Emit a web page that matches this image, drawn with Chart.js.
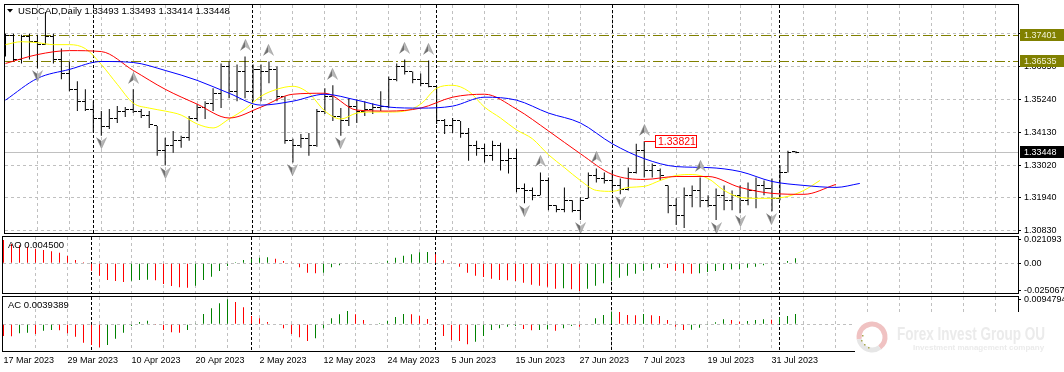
<!DOCTYPE html>
<html lang="en">
<head>
<meta charset="UTF-8">
<title>USDCAD Daily</title>
<script src="https://cdn.jsdelivr.net/npm/chart.js@4"></script>
<style>
  body { margin: 0; background: #fff; }
  #wrap { position: relative; width: 1064px; height: 372px; overflow: hidden; }
  #wrap canvas { position: absolute; left: 0; top: 0; }
</style>
</head>
<body>
<div id="wrap">
  <canvas id="mainChart" width="1064" height="372"></canvas>
  <canvas id="aoChart" width="1064" height="372"></canvas>
  <canvas id="acChart" width="1064" height="372"></canvas>
</div>
<script>
// ---- data ----
const symbol = 'USDCAD,Daily';
const dateTicks = ['17 Mar 2023', '29 Mar 2023', '10 Apr 2023', '20 Apr 2023', '2 May 2023', '12 May 2023',
  '24 May 2023', '5 Jun 2023', '15 Jun 2023', '27 Jun 2023', '7 Jul 2023', '19 Jul 2023', '31 Jul 2023'];
const monthStarts = [11, 31, 54, 76, 97];   // first bar of each month (period separators)

const opens = [1.36843, 1.37378, 1.36576, 1.37345, 1.37178, 1.37077, 1.37345, 1.36576, 1.36108, 1.35574,
  1.35173, 1.34906, 1.34572, 1.34304, 1.34572, 1.34839, 1.34906, 1.34839, 1.34705, 1.34338,
  1.33502, 1.33670, 1.33837, 1.33937, 1.34572, 1.34973, 1.35106, 1.35440, 1.36342, 1.35507,
  1.36175, 1.35507, 1.36242, 1.36175, 1.36242, 1.35340, 1.33837, 1.33670, 1.33903, 1.33670,
  1.34839, 1.35340, 1.34672, 1.34505, 1.35006, 1.34839, 1.34906, 1.34973, 1.35006, 1.35908,
  1.36342, 1.36175, 1.35908, 1.35774, 1.35674, 1.34505, 1.34338, 1.34505, 1.34070, 1.33670,
  1.33569, 1.33335, 1.33670, 1.33168, 1.33235, 1.32233, 1.32166, 1.31999, 1.32500, 1.31665,
  1.31531, 1.31832, 1.31498, 1.31899, 1.32667, 1.32567, 1.32500, 1.32333, 1.32200, 1.32767,
  1.33502, 1.32834, 1.32834, 1.32333, 1.31665, 1.31331, 1.31999, 1.32166, 1.31832, 1.31665,
  1.31999, 1.31832, 1.31999, 1.31832, 1.32166, 1.32333, 1.32233, 1.31899, 1.32767, 1.33493];
const highs = [1.37445, 1.37445, 1.37411, 1.37445, 1.37411, 1.38180, 1.37445, 1.36944, 1.36509, 1.35841,
  1.35574, 1.35173, 1.34839, 1.34906, 1.35006, 1.34973, 1.35574, 1.34906, 1.34839, 1.34338,
  1.33937, 1.34171, 1.34004, 1.34672, 1.35073, 1.35173, 1.35607, 1.36443, 1.36509, 1.36409,
  1.36676, 1.36409, 1.36409, 1.36509, 1.36342, 1.35340, 1.33903, 1.34070, 1.34104, 1.34906,
  1.35607, 1.35708, 1.34939, 1.35273, 1.35240, 1.35173, 1.35106, 1.35507, 1.36008, 1.36443,
  1.36576, 1.36175, 1.36108, 1.36543, 1.35674, 1.34572, 1.34605, 1.34505, 1.34271, 1.33837,
  1.33736, 1.33837, 1.33770, 1.33569, 1.33569, 1.32400, 1.32266, 1.32767, 1.32600, 1.31665,
  1.32266, 1.31832, 1.31932, 1.32767, 1.32901, 1.32767, 1.32834, 1.32567, 1.32935, 1.33736,
  1.33821, 1.33068, 1.32901, 1.32333, 1.31899, 1.32266, 1.32333, 1.32600, 1.31999, 1.32233,
  1.32333, 1.32166, 1.32333, 1.32433, 1.32600, 1.32500, 1.32567, 1.33001, 1.33502, 1.33493];
const lows = [1.36676, 1.36509, 1.36443, 1.36576, 1.36276, 1.37077, 1.36443, 1.35908, 1.35507, 1.34839,
  1.34839, 1.34104, 1.34004, 1.34238, 1.34438, 1.34638, 1.34772, 1.34605, 1.34271, 1.33335,
  1.33001, 1.33436, 1.33603, 1.33837, 1.34505, 1.34572, 1.34839, 1.34939, 1.35273, 1.35173,
  1.35273, 1.35173, 1.35173, 1.35774, 1.35173, 1.33736, 1.33102, 1.33603, 1.33335, 1.33636,
  1.34739, 1.34505, 1.34004, 1.34338, 1.34438, 1.34672, 1.34739, 1.34839, 1.34939, 1.35841,
  1.36075, 1.35774, 1.35674, 1.35641, 1.34405, 1.34070, 1.34104, 1.33937, 1.33168, 1.33335,
  1.33102, 1.33168, 1.32834, 1.32734, 1.32099, 1.31732, 1.31832, 1.31999, 1.31498, 1.31431,
  1.31431, 1.31431, 1.31164, 1.31899, 1.32433, 1.32400, 1.32166, 1.32032, 1.32166, 1.32734,
  1.32600, 1.32600, 1.32500, 1.31398, 1.30997, 1.30897, 1.31598, 1.31598, 1.31598, 1.31164,
  1.31498, 1.31498, 1.31398, 1.31665, 1.31565, 1.31999, 1.31464, 1.31832, 1.32767, 1.33414];
const closes = [1.37378, 1.36576, 1.37345, 1.37178, 1.37077, 1.37345, 1.36576, 1.36108, 1.35574, 1.35173,
  1.34906, 1.34572, 1.34304, 1.34572, 1.34839, 1.34906, 1.34839, 1.34705, 1.34371, 1.33502,
  1.33670, 1.33837, 1.33937, 1.34572, 1.34973, 1.35106, 1.35440, 1.36342, 1.35507, 1.36175,
  1.35507, 1.36242, 1.36175, 1.36242, 1.35340, 1.33837, 1.33670, 1.33903, 1.33670, 1.34839,
  1.35340, 1.34672, 1.34505, 1.35006, 1.34839, 1.34906, 1.34973, 1.35006, 1.35908, 1.36342,
  1.36175, 1.35908, 1.35774, 1.35674, 1.34505, 1.34338, 1.34505, 1.34070, 1.33670, 1.33569,
  1.33335, 1.33670, 1.33168, 1.33235, 1.32233, 1.32166, 1.31999, 1.32500, 1.31665, 1.31531,
  1.31832, 1.31498, 1.31832, 1.32667, 1.32567, 1.32500, 1.32333, 1.32200, 1.32767, 1.33502,
  1.32834, 1.33001, 1.32667, 1.31665, 1.31331, 1.31999, 1.32166, 1.31832, 1.31665, 1.31999,
  1.31832, 1.31999, 1.31832, 1.32166, 1.32333, 1.32233, 1.31899, 1.32767, 1.33436, 1.33448];

// Alligator lines (jaw/teeth sampled every 4 bars, lips every 2 bars)
const jaw = [1.35207, 1.35942, 1.36242, 1.36510, 1.36476, 1.36209, 1.35875, 1.35440, 1.35040, 1.35173,
  1.35407, 1.35207, 1.34973, 1.34939, 1.35006, 1.35307, 1.35207, 1.34772, 1.34438, 1.33737,
  1.33235, 1.32968, 1.32935, 1.32801, 1.32467, 1.32333, 1.32266, 1.32400];
const teeth = [1.36443, 1.36743, 1.36877, 1.36844, 1.36209, 1.35574, 1.35073, 1.34605, 1.34973, 1.35407,
  1.35440, 1.34872, 1.34839, 1.34939, 1.35307, 1.35407, 1.34906, 1.34171, 1.33402, 1.32701,
  1.32534, 1.32634, 1.32634, 1.32266, 1.32066, 1.32033, 1.32367];
const lips = [1.37078, 1.37178, 1.37144, 1.37078, 1.37078, 1.36944, 1.36409, 1.35741, 1.35106, 1.34939,
  1.34839, 1.34705, 1.34405, 1.34271, 1.34572, 1.34906, 1.35340, 1.35574, 1.35674, 1.35440,
  1.34839, 1.34572, 1.34772, 1.34806, 1.34806, 1.34839, 1.35073, 1.35607, 1.35708, 1.35507,
  1.34973, 1.34605, 1.34204, 1.33904, 1.33369, 1.32935, 1.32500, 1.32166, 1.32133, 1.32266,
  1.32300, 1.32500, 1.32667, 1.32701, 1.32567, 1.32166, 1.31932, 1.31899, 1.31899, 1.31966,
  1.32166, 1.32500];

const fractalUp = [5, 16, 30, 33, 41, 50, 53, 67, 74, 80, 87];
const fractalDown = [4, 12, 20, 36, 42, 65, 72, 77, 89, 92, 96];
const levels = [1.37401, 1.36535];
const markedHigh = 80;
const priceTicks = [1.37460, 1.36350, 1.35240, 1.34130, 1.33020, 1.31940, 1.30830];

const ao = [0.02112, 0.01750, 0.01629, 0.01509, 0.01327, 0.01207, 0.01086, 0.00965, 0.00664, 0.00302,
  0.00091, -0.00664, -0.01116, -0.01509, -0.01599, -0.01690, -0.01569, -0.01509, -0.01478, -0.01539,
  -0.01871, -0.02052, -0.02172, -0.02202, -0.02021, -0.01509, -0.01207, -0.00694, -0.00241, 0.00091,
  0.00302, 0.00422, 0.00513, 0.00543, 0.00422, 0.00211, 0.00030, -0.00362, -0.00845, -0.00905,
  -0.00845, -0.00362, -0.00181, -0.00040, -0.00020, -0.00030, -0.00010, 0.00030, 0.00241, 0.00513,
  0.00694, 0.00815, 0.00996, 0.01026, 0.00815, 0.00272, 0.00030, -0.00302, -0.00845, -0.01116,
  -0.01237, -0.01388, -0.01509, -0.01539, -0.01599, -0.01750, -0.01931, -0.02021, -0.02112, -0.02293,
  -0.02263, -0.02353, -0.02507, -0.02293, -0.02021, -0.01810, -0.01569, -0.01297, -0.01116, -0.00935,
  -0.00664, -0.00543, -0.00392, -0.00422, -0.00664, -0.00905, -0.00935, -0.00905, -0.00784, -0.00694,
  -0.00603, -0.00543, -0.00513, -0.00392, -0.00302, -0.00181, -0.00060, 0.00030, 0.00211, 0.00450];
const ac = [-0.00443, -0.00450, -0.00342, -0.00317, -0.00367, -0.00241, -0.00215, -0.00228, -0.00342, -0.00469,
  -0.00697, -0.00786, -0.00874, -0.00786, -0.00545, -0.00317, -0.00063, 0.00089, 0.00139, -0.00025,
  -0.00215, -0.00304, -0.00317, -0.00215, 0.00013, 0.00393, 0.00608, 0.00798, 0.00950, 0.00849,
  0.00646, 0.00317, 0.00228, 0.00089, -0.00013, -0.00152, -0.00367, -0.00494, -0.00634, -0.00532,
  -0.00152, 0.00228, 0.00380, 0.00507, 0.00380, 0.00165, 0.00025, 0.00038, 0.00139, 0.00279,
  0.00393, 0.00380, 0.00317, 0.00203, -0.00038, -0.00443, -0.00595, -0.00634, -0.00760, -0.00659,
  -0.00443, -0.00215, -0.00152, -0.00089, -0.00063, -0.00177, -0.00228, -0.00215, -0.00190, -0.00241,
  -0.00152, -0.00063, -0.00089, 0.00025, 0.00228, 0.00355, 0.00481, 0.00469, 0.00355, 0.00342,
  0.00393, 0.00342, 0.00317, 0.00165, -0.00089, -0.00215, -0.00203, -0.00127, -0.00025, 0.00076,
  0.00190, 0.00165, 0.00101, 0.00127, 0.00165, 0.00190, 0.00177, 0.00266, 0.00317, 0.0039389];
const aoTicks = [-0.025067, 0, 0.021093];
const acTicks = [0, 0.0094794];

// ---- setup ----
const FONT = '"Liberation Sans", Arial, sans-serif';
Chart.defaults.font.family = FONT;
Chart.defaults.font.size = 9;
Chart.defaults.color = '#000';

const X_MIN = -0.0625, X_MAX = 126.8125;
const lastBar = closes.length - 1;
const gridIdx = [];
for (let v = 0; v <= X_MAX; v += 4) gridIdx.push(v);

const UP = '#008000', DOWN = '#ff0000';
const histColors = arr => arr.map((v, i) => (i > 0 && v > arr[i - 1]) ? UP : DOWN);
const linePts = (vals, step, shift) => vals.map((v, k) => ({x: Math.min(k * step, lastBar + shift), y: v}));

function xAxis(showDates) {
  return {
    type: 'linear', min: X_MIN, max: X_MAX, offset: false,
    afterBuildTicks: s => { s.ticks = gridIdx.map(v => ({value: v})); },
    afterFit: s => { s.height = showDates ? 21 : 0; s.paddingLeft = 0; s.paddingRight = 0; },
    grid: { offset: false, drawTicks: false, lineWidth: 1,
            color: c => (c.tick && c.tick.value === 0) ? 'rgba(0,0,0,0)' : '#c0c0c0' },
    border: { display: false, dash: [3, 3] },
    ticks: { display: showDates, autoSkip: false, maxRotation: 0, minRotation: 0, align: 'start', padding: 4,
             callback: v => (v % 8 === 0 && dateTicks[v / 8]) ? dateTicks[v / 8] : '' }
  };
}

function yAxis(min, max, ticks, fmt, zeroOnly) {
  return {
    type: 'linear', position: 'right', min, max,
    afterBuildTicks: s => { s.ticks = ticks.slice().sort((a, b) => a - b).map(v => ({value: v})); },
    afterFit: s => { s.width = 46; s.paddingTop = 0; s.paddingBottom = 0; },
    grid: { tickColor: '#000', tickLength: 3, lineWidth: 1,
            color: c => (!zeroOnly || (c.tick && c.tick.value === 0)) ? '#c0c0c0' : 'rgba(0,0,0,0)' },
    border: { display: false, dash: [3, 3] },
    ticks: { padding: 3, autoSkip: false, callback: fmt }
  };
}

// fractal arrow and bar tick images
function arrowImage(up) {
  const c = document.createElement('canvas');
  c.width = 11; c.height = up ? 35 : 27;
  const g = c.getContext('2d');
  if (!up) { g.translate(0, c.height); g.scale(1, -1); }
  g.fillStyle = '#707070';
  g.beginPath(); g.moveTo(5.5, 0.5); g.lineTo(5.5, 8); g.lineTo(0.5, 11.5); g.closePath(); g.fill();
  g.fillStyle = '#b8b8b8';
  g.beginPath(); g.moveTo(5.5, 0.5); g.lineTo(10.5, 11.5); g.lineTo(5.5, 8); g.closePath(); g.fill();
  g.strokeStyle = '#909090'; g.lineWidth = 0.6;
  g.beginPath(); g.moveTo(0.5, 11.5); g.lineTo(5.5, 0.5); g.lineTo(10.5, 11.5); g.stroke();
  return c;
}
function tickImage(left) {
  const c = document.createElement('canvas');
  c.width = 7; c.height = 1;
  const g = c.getContext('2d');
  g.fillStyle = '#000';
  g.fillRect(left ? 0 : 4, 0, 3, 1);
  return c;
}
const upArrow = arrowImage(true), downArrow = arrowImage(false);
const openTick = tickImage(true), closeTick = tickImage(false);

// ---- plugins ----
const decor = {
  id: 'decor',
  beforeDatasetsDraw(chart) {
    const {ctx, chartArea: a, scales: {x}} = chart;
    ctx.imageSmoothingEnabled = false;
    ctx.save();
    ctx.strokeStyle = '#000'; ctx.lineWidth = 1; ctx.setLineDash([3, 2]);
    monthStarts.forEach(i => {
      const px = Math.floor(x.getPixelForValue(i) - 0.25) + 0.5;
      ctx.beginPath(); ctx.moveTo(px, a.top); ctx.lineTo(px, a.bottom); ctx.stroke();
    });
    ctx.restore();
  },
  afterDraw(chart, args, o) {
    const {ctx, chartArea: a} = chart;
    ctx.save();
    ctx.strokeStyle = '#000'; ctx.lineWidth = 1;
    ctx.strokeRect(a.left - 0.5, a.top - 0.5, a.right - a.left + 1, a.bottom - a.top + 1);
    ctx.fillStyle = '#000';
    ctx.font = '9.5px ' + FONT;
    ctx.textBaseline = 'middle';
    ctx.fillText(o.title, o.tx, o.ty);
    if (o.marker) {
      ctx.beginPath(); ctx.moveTo(7, 9); ctx.lineTo(13, 9); ctx.lineTo(10, 12.5); ctx.closePath(); ctx.fill();
    }
    ctx.restore();
  }
};

// horizontal level lines + bid line (snapped to pixels), and the right-hand price tags
const priceTags = {
  id: 'priceTags',
  beforeDatasetsDraw(chart) {
    const {ctx, chartArea: a, scales: {y}} = chart;
    const hline = (v, color, dash) => {
      const py = Math.round(y.getPixelForValue(v)) + 0.5;
      ctx.save();
      ctx.strokeStyle = color; ctx.lineWidth = 1; ctx.setLineDash(dash);
      ctx.beginPath(); ctx.moveTo(a.left, py); ctx.lineTo(a.right, py); ctx.stroke();
      ctx.restore();
    };
    hline(closes[lastBar], '#c0c0c0', []);
    levels.forEach(v => hline(v, '#808000', [10, 3, 2, 3]));
  },
  afterDraw(chart) {
    const {ctx, chartArea: a, scales: {x, y}} = chart;
    ctx.save();
    ctx.font = '9px ' + FONT;
    ctx.textBaseline = 'middle';
    const tag = (v, fill, color) => {
      const py = Math.round(y.getPixelForValue(v));
      ctx.fillStyle = fill;
      ctx.fillRect(a.right + 2, py - 6, 46, 12);
      ctx.fillStyle = color;
      ctx.fillText(v.toFixed(5), a.right + 6, py + 0.5);
    };
    levels.forEach(v => tag(v, '#808000', '#f2f2d6'));
    tag(closes[lastBar], '#000', '#fff');
    // high label
    const hv = highs[markedHigh];
    const hx = x.getPixelForValue(markedHigh);
    const hy = Math.round(y.getPixelForValue(hv)) + 0.5;
    const bx = Math.round(hx) + 11.5;
    ctx.strokeStyle = '#ff0000'; ctx.lineWidth = 1;
    ctx.beginPath(); ctx.moveTo(hx, hy); ctx.lineTo(bx, hy); ctx.stroke();
    ctx.fillStyle = '#fff';
    ctx.fillRect(bx, hy - 6, 41, 12);
    ctx.strokeRect(bx, hy - 6, 41, 12);
    ctx.fillStyle = '#ff0000';
    ctx.font = '10.5px ' + FONT;
    ctx.fillText(hv.toFixed(5), bx + 2.5, hy + 0.5);
    ctx.restore();
  }
};

const logo = {
  id: 'logo',
  afterDraw(chart) {
    const ctx = chart.ctx;
    ctx.save();
    ctx.fillStyle = '#fff';
    ctx.fillRect(855, 312, 209, 60);
    ctx.lineWidth = 5;
    ctx.strokeStyle = '#f0c2c2';
    ctx.beginPath(); ctx.arc(872, 337, 13, Math.PI * 0.95, Math.PI * 2.3); ctx.stroke();
    ctx.strokeStyle = '#e6e6e6';
    ctx.beginPath(); ctx.arc(872, 337, 13, Math.PI * 0.3, Math.PI * 0.95); ctx.stroke();
    ctx.fillStyle = '#a8a850';
    [[862, 335], [861, 340], [864, 344], [868, 347]].forEach(p => ctx.fillRect(p[0], p[1], 1.5, 1.5));
    ctx.fillStyle = '#ebebeb';
    ctx.textBaseline = 'alphabetic';
    ctx.font = 'bold 19px ' + FONT;
    ctx.fillText('Forex Invest Group OU', 897, 340, 148);
    ctx.font = 'bold 8px ' + FONT;
    ctx.fillText('Investment management company', 913, 350, 140);
    ctx.restore();
  }
};

const baseOpts = (padTop, padBottom, title, tx, ty, marker) => ({
  responsive: false, animation: false, events: [],
  layout: { padding: { left: 3, right: 0, top: padTop, bottom: padBottom } },
  plugins: { legend: { display: false }, tooltip: { enabled: false },
             decor: { title, tx, ty, marker } }
});

// ---- main price panel ----
const mainOpts = baseOpts(3, 139,
  symbol + ' ' + [opens[lastBar], highs[lastBar], lows[lastBar], closes[lastBar]].map(v => v.toFixed(5)).join(' '),
  18, 11, true);
mainOpts.scales = { x: xAxis(false), y: yAxis(1.307295, 1.384141, priceTicks, v => v.toFixed(5), false) };

new Chart(document.getElementById('mainChart'), {
  type: 'line',
  data: {
    datasets: [
      { type: 'bar', order: 5, data: highs.map((h, i) => ({x: i, y: [lows[i], h]})),
        backgroundColor: '#000', barThickness: 1, inflateAmount: 0, borderWidth: 0, grouped: false },
      { type: 'line', order: 4, showLine: false, data: opens.map((v, i) => ({x: i, y: v})),
        pointStyle: openTick, pointRadius: 2 },
      { type: 'line', order: 4, showLine: false, data: closes.map((v, i) => ({x: i, y: v})),
        pointStyle: closeTick, pointRadius: 2 },
      { type: 'line', order: 2, data: linePts(jaw, 4, 8), borderColor: '#0000ff', borderWidth: 1,
        pointRadius: 0, cubicInterpolationMode: 'monotone' },
      { type: 'line', order: 2, data: linePts(teeth, 4, 5), borderColor: '#ff0000', borderWidth: 1,
        pointRadius: 0, cubicInterpolationMode: 'monotone' },
      { type: 'line', order: 2, data: linePts(lips, 2, 3), borderColor: '#ffff00', borderWidth: 1,
        pointRadius: 0, cubicInterpolationMode: 'monotone' },
      { type: 'line', order: 1, showLine: false, data: fractalUp.map(i => ({x: i, y: highs[i]})),
        pointStyle: upArrow, pointRadius: 3 },
      { type: 'line', order: 1, showLine: false, data: fractalDown.map(i => ({x: i, y: lows[i]})),
        pointStyle: downArrow, pointRadius: 3 }
    ]
  },
  options: mainOpts,
  plugins: [decor, priceTags]
});

// ---- AO panel ----
const aoOpts = baseOpts(237, 79, 'AO ' + ao[lastBar].toFixed(6), 8, 245, false);
aoOpts.scales = { x: xAxis(false),
  y: yAxis(-0.026879, 0.023802, aoTicks, v => v === 0 ? '0.00' : String(v), true) };
new Chart(document.getElementById('aoChart'), {
  type: 'line',
  data: { datasets: [{ type: 'bar', data: ao.map((v, i) => ({x: i, y: v})), backgroundColor: histColors(ao),
    barThickness: 1, inflateAmount: 0, borderWidth: 0 }] },
  options: aoOpts,
  plugins: [decor]
});

// ---- AC panel ----
const acOpts = baseOpts(297, 0, 'AC ' + ac[lastBar].toFixed(7), 8, 305, false);
acOpts.scales = { x: xAxis(true),
  y: yAxis(-0.010146, 0.010374, acTicks, v => v === 0 ? '0.00' : String(v), true) };
new Chart(document.getElementById('acChart'), {
  type: 'line',
  data: { datasets: [{ type: 'bar', data: ac.map((v, i) => ({x: i, y: v})), backgroundColor: histColors(ac),
    barThickness: 1, inflateAmount: 0, borderWidth: 0 }] },
  options: acOpts,
  plugins: [decor, logo]
});
</script>
</body>
</html>
